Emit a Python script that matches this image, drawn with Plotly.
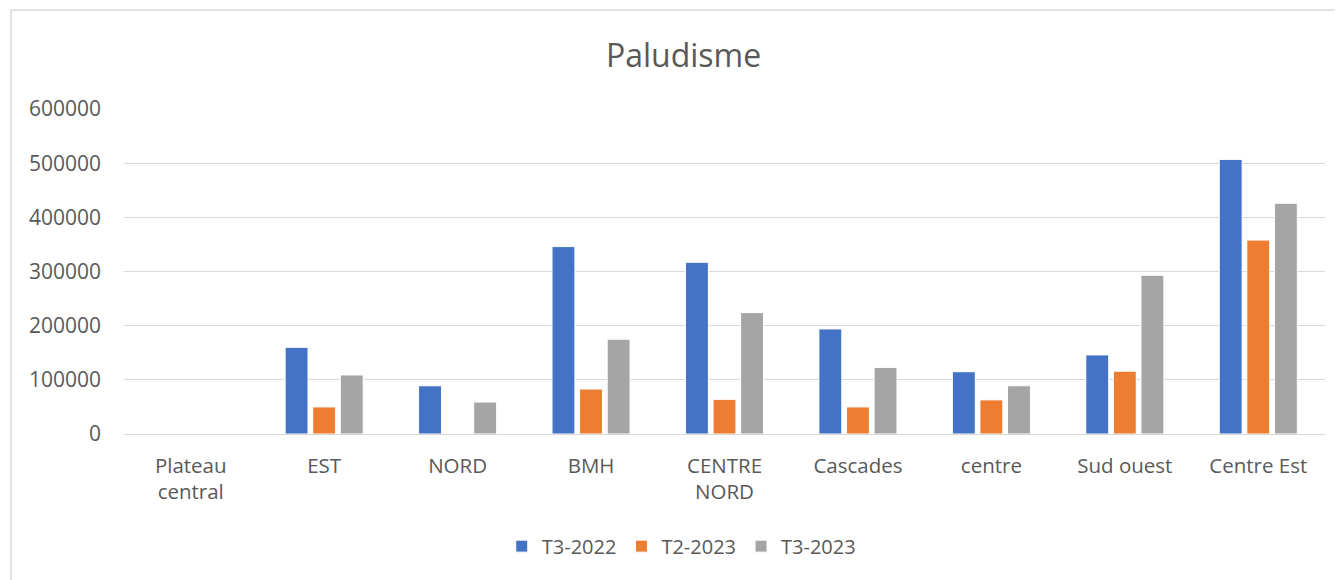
import plotly.graph_objects as go

categories = ["Plateau<br>central", "EST", "NORD", "BMH", "CENTRE<br>NORD", "Cascades",
              "centre", "Sud ouest", "Centre Est"]
t3_2022 = [0, 160000, 89000, 346000, 317000, 194000, 115000, 146000, 507000]
t2_2023 = [0, 50000, 0, 83000, 64000, 50000, 63000, 116000, 358000]
t3_2023 = [0, 109000, 59000, 175000, 224000, 123000, 89000, 293000, 426000]
series_names = ["T3-2022", "T2-2023", "T3-2023"]
colors = ["#4472C4", "#ED7D31", "#A5A5A5"]
y_ticks = [0, 100000, 200000, 300000, 400000, 500000, 600000]

FONT = "Open Sans"
L, T, PW, PH = 116, 101, 1201, 325
fig = go.Figure()
for name, vals, col in zip(series_names, [t3_2022, t2_2023, t3_2023], colors):
    fig.add_trace(go.Bar(x=categories, y=vals, name=name,
                         marker=dict(color=col, line=dict(color="white", width=1))))

fig.update_layout(
    width=1343, height=580,
    paper_bgcolor="white", plot_bgcolor="white",
    margin=dict(l=L, r=1343 - L - PW, t=T, b=580 - T - PH),
    barmode="group", bargap=0.38, bargroupgap=0.17,
    title=dict(text="Paludisme", x=0.503, xanchor="center", y=0.917, yanchor="middle",
               font=dict(family=FONT, size=32, color="#595959")),
    font=dict(family=FONT, size=21, color="#595959"),
    legend=dict(orientation="h", x=0.464, xanchor="center", y=-0.285, yanchor="top",
                font=dict(family=FONT, size=20, color="#595959"), itemwidth=30,
                traceorder="normal"),
    xaxis=dict(showgrid=False, showline=True, linecolor="#d9d9d9", linewidth=1,
               ticks="", ticklabelstandoff=13, tickfont=dict(size=20.5, color="#595959")),
    yaxis=dict(range=[0, 600000], tickvals=y_ticks, ticktext=[str(v) for v in y_ticks],
               showgrid=True, gridcolor="#d9d9d9", gridwidth=1, zeroline=False,
               ticks="", ticklabelstandoff=22, tickfont=dict(size=21, color="#595959")),
    shapes=[dict(type="rect", xref="paper", yref="paper",
                 x0=(3 - L) / PW, x1=1.1, y0=-0.6, y1=(T + PH - 2) / PH,
                 line=dict(color="#d9d9d9", width=1.5), fillcolor="rgba(0,0,0,0)", layer="below")],
)

fig.write_html("out.html")
